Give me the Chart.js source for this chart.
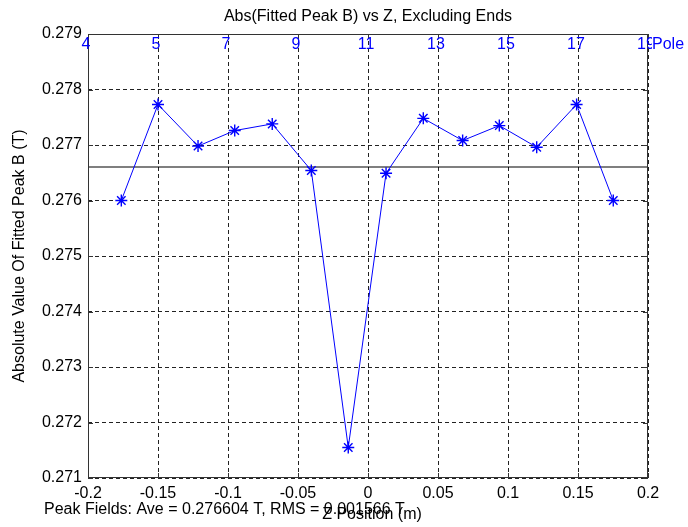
<!DOCTYPE html>
<html>
<head>
<meta charset="utf-8">
<script src="https://cdn.jsdelivr.net/npm/chart.js@4"></script>
<style>
  body { margin: 0; background: #fff; }
  canvas { display: block; }
</style>
</head>
<body>
<canvas id="peakChart" width="688" height="527"></canvas>
<script>
// z positions (m) and fitted peak field (T) per pole
const zPos = [-0.1762, -0.1500, -0.1214, -0.0952, -0.0684, -0.0405, -0.0141,
              0.0129, 0.0395, 0.0676, 0.0938, 0.1205, 0.1490, 0.1752];
const peakB = [0.27600, 0.27773, 0.27698, 0.27726, 0.27738, 0.27654, 0.27155,
               0.27649, 0.27748, 0.27708, 0.27735, 0.27696, 0.27773, 0.27600];
const aveB = 0.276604;
const rmsB = 0.001566;

const xTicks = [-0.2, -0.15, -0.1, -0.05, 0, 0.05, 0.1, 0.15, 0.2];
const xTickLabels = ["-0.2", "-0.15", "-0.1", "-0.05", "0", "0.05", "0.1", "0.15", "0.2"];
const yTicks = [0.271, 0.272, 0.273, 0.274, 0.275, 0.276, 0.277, 0.278, 0.279];
const yTickLabels = ["0.271", "0.272", "0.273", "0.274", "0.275", "0.276", "0.277", "0.278", "0.279"];
const poleLabels = ["4", "5", "7", "9", "11", "13", "15", "17", "19"];

const FONT = "'Liberation Sans', Arial, sans-serif";

const framePlugin = {
  id: "frame",
  afterDatasetsDraw(chart) {
    const { ctx, chartArea: a, scales } = chart;
    ctx.save();
    // box
    ctx.strokeStyle = "#333";
    ctx.lineWidth = 1;
    ctx.setLineDash([]);
    ctx.strokeRect(a.left + 0.5, a.top + 0.5, a.right - a.left - 1, a.bottom - a.top - 1);
    // inner tick marks
    ctx.beginPath();
    xTicks.forEach((v) => {
      const x = Math.round(scales.x.getPixelForValue(v)) + 0.5;
      ctx.moveTo(x, a.bottom); ctx.lineTo(x, a.bottom - 5);
      ctx.moveTo(x, a.top); ctx.lineTo(x, a.top + 5);
    });
    yTicks.forEach((v) => {
      const y = Math.round(scales.y.getPixelForValue(v)) + 0.5;
      ctx.moveTo(a.left, y); ctx.lineTo(a.left + 5, y);
      ctx.moveTo(a.right, y); ctx.lineTo(a.right - 5, y);
    });
    ctx.stroke();

    // pole numbers along top
    ctx.fillStyle = "#0000ff";
    ctx.font = "16px " + FONT;
    ctx.textAlign = "center";
    ctx.textBaseline = "middle";
    xTicks.forEach((v, i) => {
      ctx.fillText(poleLabels[i], scales.x.getPixelForValue(v) - 2, a.top + 11);
    });
    ctx.textAlign = "left";
    ctx.fillStyle = "#fff";
    ctx.fillRect(a.right + 4, a.top + 2, 34, 18);
    ctx.fillStyle = "#0000ff";
    ctx.fillText("Pole", a.right + 4, a.top + 11);

    // title and labels
    ctx.fillStyle = "#000";
    ctx.textAlign = "center";
    ctx.fillText("Abs(Fitted Peak B) vs Z, Excluding Ends", (a.left + a.right) / 2, 17);
    ctx.fillText("Z Position (m)", (a.left + a.right) / 2 + 4, 515);
    ctx.textAlign = "left";
    ctx.fillText("Peak Fields: Ave = " + aveB.toFixed(6) + " T, RMS = " + rmsB.toFixed(6) + " T", 44, 510);

    ctx.translate(20, (a.top + a.bottom) / 2);
    ctx.rotate(-Math.PI / 2);
    ctx.textAlign = "center";
    ctx.fillText("Absolute Value Of Fitted Peak B (T)", 0, 0);
    ctx.restore();
  },
};

new Chart(document.getElementById("peakChart"), {
  type: "scatter",
  data: {
    datasets: [
      {
        data: zPos.map((z, i) => ({ x: z, y: peakB[i] })),
        showLine: true,
        borderColor: "#0000ff",
        backgroundColor: "#0000ff",
        borderWidth: 1,
        pointStyle: "star",
        pointRadius: 6,
        pointBorderWidth: 1.4,
      },
      {
        data: [{ x: -0.2, y: aveB }, { x: 0.2, y: aveB }],
        showLine: true,
        borderColor: "#000",
        borderWidth: 1.2,
        pointRadius: 0,
      },
    ],
  },
  options: {
    responsive: false,
    animation: false,
    devicePixelRatio: 1,
    layout: { padding: { top: 34, right: 40, left: 0, bottom: 0 } },
    plugins: { legend: { display: false }, tooltip: { enabled: false } },
    scales: {
      x: {
        type: "linear",
        min: -0.2,
        max: 0.2,
        afterBuildTicks: (s) => { s.ticks = xTicks.map((v) => ({ value: v })); },
        afterFit: (s) => { s.height = 49; },
        ticks: {
          callback: (v, i) => xTickLabels[i],
          color: "#000",
          font: { family: FONT, size: 16 },
          padding: 6,
          maxRotation: 0,
          autoSkip: false,
        },
        grid: { color: "#222", lineWidth: 1, drawTicks: false },
        border: { display: false, dash: [4, 3] },
      },
      y: {
        type: "linear",
        min: 0.271,
        max: 0.279,
        afterBuildTicks: (s) => { s.ticks = yTicks.map((v) => ({ value: v })); },
        afterFit: (s) => { s.width = 88; },
        ticks: {
          callback: (v, i) => yTickLabels[i],
          color: "#000",
          font: { family: FONT, size: 16 },
          padding: 6,
          autoSkip: false,
        },
        grid: { color: "#222", lineWidth: 1, drawTicks: false },
        border: { display: false, dash: [4, 3] },
      },
    },
  },
  plugins: [framePlugin],
});
</script>
</body>
</html>
